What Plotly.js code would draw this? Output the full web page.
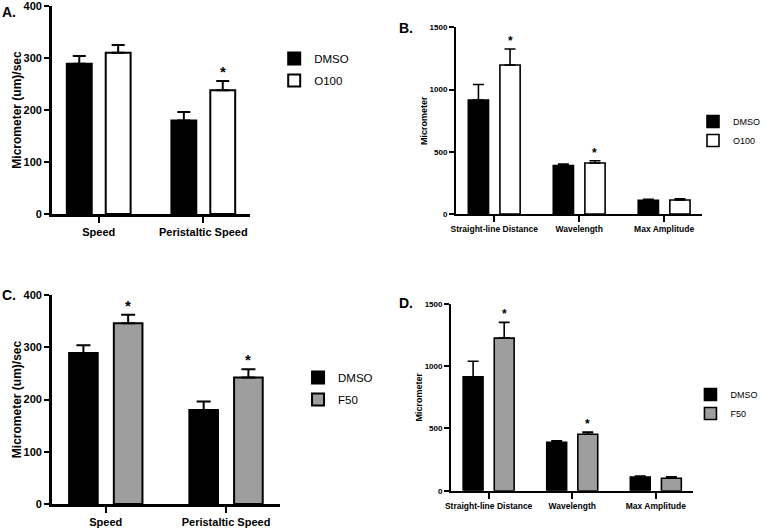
<!DOCTYPE html>
<html>
<head>
<meta charset="utf-8">
<script src="https://cdn.plot.ly/plotly-3.0.1.min.js"></script>
<style>html,body{margin:0;padding:0;background:#fff;}#chart{width:765px;height:528px;}</style>
</head>
<body>
<div id="chart"></div>
<script>
// ---------- data ----------
const speedCategories = ['Speed', 'Peristaltic Speed'];
const shapeCategories = ['Straight-line Distance', 'Wavelength', 'Max Amplitude'];

const dmsoSpeed = [289, 180];
const dmsoSpeedErr = [15, 16];
const o100Speed = [310, 238];
const o100SpeedErr = [15, 18];
const o100SpeedSig = [false, true];
const f50Speed = [346, 242];
const f50SpeedErr = [16, 16];
const f50SpeedSig = [true, true];

const dmsoShape = [915, 389, 110];
const dmsoShapeErr = [125, 12, 8];
const o100Shape = [1197, 410, 112];
const o100ShapeErr = [129, 18, 11];
const o100ShapeSig = [true, true, false];
const f50Shape = [1226, 453, 100];
const f50ShapeErr = [126, 18, 12];
const f50ShapeSig = [true, true, false];

const seriesNames = ['DMSO', 'O100', 'F50'];
const speedTitle = 'Micrometer (um)/sec';
const shapeTitle = 'Micrometer';
const panelLabels = ['A.', 'B.', 'C.', 'D.'];

// ---------- styling ----------
const FONT = 'Liberation Sans, Arial, Helvetica, sans-serif';
const BLACK = '#000000';
const WHITE = '#ffffff';
const GRAY = '#9e9e9e';

function barTrace(cats, vals, errs, name, color, xa, ya, legend, lw, capw, group) {
  return {
    type: 'bar', x: cats, y: vals, name: name, xaxis: xa, yaxis: ya,
    legend: legend, legendgroup: group,
    marker: {color: color, line: {color: BLACK, width: lw}},
    error_y: {type: 'data', array: errs, arrayminus: errs.map(() => 0), symmetric: false,
              color: BLACK, thickness: lw, width: capw, visible: true},
    hoverinfo: 'skip'
  };
}

const data = [
  barTrace(speedCategories, dmsoSpeed, dmsoSpeedErr, seriesNames[0], BLACK, 'x', 'y', 'legend', 2, 6.5, 'a1'),
  barTrace(speedCategories, o100Speed, o100SpeedErr, seriesNames[1], WHITE, 'x', 'y', 'legend', 2, 6.5, 'a2'),
  barTrace(shapeCategories, dmsoShape, dmsoShapeErr, seriesNames[0], BLACK, 'x2', 'y2', 'legend2', 1.6, 5.5, 'b1'),
  barTrace(shapeCategories, o100Shape, o100ShapeErr, seriesNames[1], WHITE, 'x2', 'y2', 'legend2', 1.6, 5.5, 'b2'),
  barTrace(speedCategories, dmsoSpeed, dmsoSpeedErr, seriesNames[0], BLACK, 'x3', 'y3', 'legend3', 2, 7, 'c1'),
  barTrace(speedCategories, f50Speed, f50SpeedErr, seriesNames[2], GRAY, 'x3', 'y3', 'legend3', 2, 7, 'c2'),
  barTrace(shapeCategories, dmsoShape, dmsoShapeErr, seriesNames[0], BLACK, 'x4', 'y4', 'legend4', 1.6, 5.5, 'd1'),
  barTrace(shapeCategories, f50Shape, f50ShapeErr, seriesNames[2], GRAY, 'x4', 'y4', 'legend4', 1.6, 5.5, 'd2')
];

const annotations = [];
function stars(vals, errs, sig, xa, ya, size) {
  vals.forEach((v, i) => {
    if (!sig[i]) return;
    annotations.push({xref: xa, yref: ya, x: i + 0.186, y: v + errs[i], text: '*',
      showarrow: false, yanchor: 'bottom', yshift: -1,
      font: {family: FONT, size: size, color: BLACK, weight: 'bold'}});
  });
}
stars(o100Speed, o100SpeedErr, o100SpeedSig, 'x', 'y', 15);
stars(o100Shape, o100ShapeErr, o100ShapeSig, 'x2', 'y2', 12);
stars(f50Speed, f50SpeedErr, f50SpeedSig, 'x3', 'y3', 15);
stars(f50Shape, f50ShapeErr, f50ShapeSig, 'x4', 'y4', 12);

const letterPos = [[0, 1 - 12 / 528], [400 / 765, 1 - 28 / 528], [0, 1 - 295 / 528], [400 / 765, 1 - 303 / 528]];
panelLabels.forEach((t, i) => {
  annotations.push({xref: 'paper', yref: 'paper', x: letterPos[i][0], y: letterPos[i][1], text: t,
    showarrow: false, xanchor: 'left', yanchor: 'middle',
    font: {family: FONT, size: 14, color: BLACK, weight: 'bold'}});
});

function xAxis(dom, anchor, n, lw, fs) {
  return {domain: dom, anchor: anchor, type: 'category', range: [-0.45, n - 1 + 0.45],
    showline: true, linecolor: BLACK, linewidth: lw, ticks: 'outside', ticklen: 6,
    tickwidth: 2, tickcolor: BLACK, showgrid: false, zeroline: false, fixedrange: true,
    tickfont: {family: FONT, size: fs, color: BLACK, weight: 'bold'}};
}
function yAxis(dom, anchor, max, dt, lw, fs, title, tfs, standoff) {
  return {domain: dom, anchor: anchor, range: [0, max], dtick: dt, tick0: 0,
    showline: true, linecolor: BLACK, linewidth: lw, ticks: 'outside', ticklen: 5,
    tickwidth: 2, tickcolor: BLACK, showgrid: false, zeroline: false, fixedrange: true,
    ticklabeloverflow: 'allow',
    tickfont: {family: FONT, size: fs, color: BLACK, weight: 'bold'},
    title: {text: title, standoff: standoff, font: {family: FONT, size: tfs, color: BLACK, weight: 'bold'}}};
}
function legendAt(x, y, fs, gap) {
  return {x: x, y: y, xanchor: 'left', yanchor: 'top', bgcolor: 'rgba(0,0,0,0)',
    font: {family: FONT, size: fs, color: BLACK}, tracegroupgap: gap, itemclick: false};
}

const layout = {
  width: 765, height: 528,
  margin: {l: 0, r: 0, t: 0, b: 0},
  paper_bgcolor: WHITE, plot_bgcolor: WHITE,
  font: {family: FONT, color: BLACK},
  barmode: 'group', bargap: 0.256, bargroupgap: 0.36,
  showlegend: true,
  xaxis: xAxis([52 / 765, 252 / 765], 'y', 2, 2.5, 11),
  yaxis: yAxis([1 - 214 / 528, 1 - 6 / 528], 'x', 400, 100, 2.5, 11, speedTitle, 12, 0),
  xaxis2: xAxis([459 / 765, 707 / 765], 'y2', 3, 2, 8.5),
  yaxis2: yAxis([1 - 214 / 528, 1 - 27.3 / 528], 'x2', 1500, 500, 2, 8, shapeTitle, 9, 0),
  xaxis3: xAxis([52 / 765, 282 / 765], 'y3', 2, 2.5, 11),
  yaxis3: yAxis([1 - 504 / 528, 1 - 295 / 528], 'x3', 400, 100, 2.5, 11, speedTitle, 12, 0),
  xaxis4: xAxis([454 / 765, 698 / 765], 'y4', 3, 2, 8.5),
  yaxis4: yAxis([1 - 490.7 / 528, 1 - 304 / 528], 'x4', 1500, 500, 2, 8, shapeTitle, 9, 0),
  legend: legendAt(276 / 765, 1 - 44 / 528, 11.5, 3),
  legend2: legendAt(698 / 765, 1 - 107 / 528, 9, 0),
  legend3: legendAt(300 / 765, 1 - 363 / 528, 11.5, 3),
  legend4: legendAt(695 / 765, 1 - 380 / 528, 9, 0),
  annotations: annotations
};

Plotly.newPlot('chart', data, layout, {staticPlot: true, displayModeBar: false});
</script>
</body>
</html>
